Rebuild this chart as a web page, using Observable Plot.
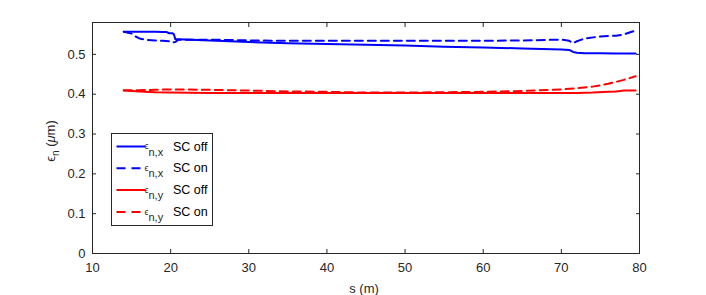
<!DOCTYPE html>
<html>
<head>
<meta charset="utf-8">
<script src="https://cdn.jsdelivr.net/npm/d3@7"></script>
<script src="https://cdn.jsdelivr.net/npm/@observablehq/plot@0.6"></script>
<style>
  html, body { margin: 0; padding: 0; background: #fff; }
  #chart { position: relative; width: 706px; height: 295px; }
  svg { font-family: "Liberation Sans", Arial, Helvetica, sans-serif; }
</style>
</head>
<body>
<div id="chart"></div>
<script>
// ---- data ----
const sXoff = [14, 15, 16, 17, 18, 19, 19.5, 19.8, 20.2, 20.4, 20.6, 21, 25, 30, 35, 40, 45, 50, 55, 60, 65, 70, 71, 71.5, 72, 73, 75, 77, 79.5];
const exOff = [0.557, 0.557, 0.557, 0.557, 0.557, 0.556, 0.556, 0.553, 0.553, 0.551, 0.538, 0.538, 0.535, 0.531, 0.528, 0.526, 0.524, 0.522, 0.519, 0.517, 0.515, 0.512, 0.511, 0.506, 0.504, 0.503, 0.503, 0.502, 0.502];

const sXon = [14, 15, 15.5, 16, 17, 18, 19, 20, 20.3, 20.6, 21, 25, 30, 35, 40, 45, 50, 55, 60, 65, 70, 71, 71.5, 72, 73, 75, 77, 78, 79.5];
const exOn = [0.557, 0.552, 0.545, 0.540, 0.536, 0.535, 0.534, 0.533, 0.530, 0.531, 0.537, 0.537, 0.535, 0.534, 0.534, 0.534, 0.534, 0.534, 0.534, 0.535, 0.537, 0.534, 0.528, 0.533, 0.540, 0.545, 0.547, 0.550, 0.560];

const sYoff = [14, 16, 18, 20, 25, 30, 35, 40, 45, 50, 55, 60, 65, 70, 72, 74, 76, 77, 78, 79.5];
const eyOff = [0.409, 0.407, 0.405, 0.404, 0.403, 0.403, 0.403, 0.403, 0.403, 0.403, 0.403, 0.403, 0.403, 0.403, 0.403, 0.404, 0.406, 0.407, 0.409, 0.409];

const sYon = [14, 16, 18, 20, 25, 30, 35, 40, 45, 50, 55, 60, 65, 70, 72, 74, 76, 78, 79.5];
const eyOn = [0.410, 0.410, 0.411, 0.412, 0.411, 0.409, 0.407, 0.406, 0.404, 0.404, 0.405, 0.406, 0.408, 0.412, 0.415, 0.419, 0.426, 0.436, 0.445];

const xTicks = [10, 20, 30, 40, 50, 60, 70, 80];
const yTicks = [0, 0.1, 0.2, 0.3, 0.4, 0.5];

const seriesNames = ["x off", "x on", "y off", "y on"];
const seriesColors = ["#0000ff", "#0000ff", "#ff0000", "#ff0000"];
const seriesDashed = [false, true, false, true];
const seriesSub = ["n,x", "n,x", "n,y", "n,y"];
const seriesLabel = ["SC off", "SC on", "SC off", "SC on"];

// ---- build table ----
const mk = (name, s, e) => s.map((v, i) => ({series: name, s: v, e: e[i]}));
const tables = [mk("x off", sXoff, exOff), mk("x on", sXon, exOn), mk("y off", sYoff, eyOff), mk("y on", sYon, eyOn)];

const axisColor = "#262626";
const marks = [];
tables.forEach((t, i) => {
  marks.push(Plot.lineY(t, {
    x: "s", y: "e",
    stroke: seriesColors[i],
    strokeWidth: 2,
    strokeDasharray: seriesDashed[i] ? "8,5" : null,
    strokeLinejoin: "round"
  }));
});

const plot = Plot.plot({
  width: 706,
  height: 295,
  marginLeft: 92,
  marginRight: 67,
  marginTop: 22,
  marginBottom: 42,
  style: {fontFamily: "'Liberation Sans', Arial, Helvetica, sans-serif", fontSize: "13px", color: axisColor, background: "#fff"},
  x: {domain: [10, 80]},
  y: {domain: [0, 0.58]},
  marks: [
    ...marks,
    Plot.frame({stroke: axisColor, strokeWidth: 1}),
    Plot.axisX({ticks: xTicks, tickSize: -4, tickPadding: 13, label: null, tickFormat: d => String(d), stroke: axisColor, fill: axisColor}),
    Plot.axisX({ticks: xTicks.slice(1, -1), anchor: "top", tickSize: -4, tickFormat: () => "", label: null, stroke: axisColor}),
    Plot.axisY({ticks: yTicks, tickSize: -4, tickPadding: 11, label: null, tickFormat: d => d === 0 ? "0" : d3.format(".1f")(d), stroke: axisColor, fill: axisColor}),
    Plot.axisY({ticks: yTicks.slice(1), anchor: "right", tickSize: -4, tickFormat: () => "", label: null, stroke: axisColor})
  ]
});

document.getElementById("chart").appendChild(plot);

const svg = d3.select(plot);

// x label
svg.append("text")
  .attr("x", 364).attr("y", 293)
  .attr("text-anchor", "middle")
  .attr("fill", axisColor)
  .style("font-size", "13px")
  .text("s (m)");

// y label
const yl = svg.append("text")
  .attr("transform", "translate(55,141) rotate(-90)")
  .attr("text-anchor", "middle")
  .attr("fill", axisColor)
  .style("font-size", "13px");
yl.append("tspan").text("ϵ");
yl.append("tspan").attr("dy", 4).style("font-size", "10px").text("n");
yl.append("tspan").attr("dy", -4).text(" (");
yl.append("tspan").style("font-style", "italic").text("μ");
yl.append("tspan").text("m)");

// legend
const lg = svg.append("g").attr("text-anchor", "start");
lg.append("rect")
  .attr("x", 111.5).attr("y", 133.5).attr("width", 101).attr("height", 92)
  .attr("fill", "#fff").attr("stroke", axisColor).attr("stroke-width", 1);
const rowY = [146.5, 168.3, 190, 212];
seriesNames.forEach((n, i) => {
  const y = rowY[i];
  lg.append("line")
    .attr("x1", 116.5).attr("x2", 145).attr("y1", y).attr("y2", y)
    .attr("stroke", seriesColors[i]).attr("stroke-width", 2)
    .attr("stroke-dasharray", seriesDashed[i] ? "9,6" : null);
  const t = lg.append("text")
    .attr("x", 144.5).attr("y", y + 2.5)
    .attr("text-anchor", "start")
    .attr("fill", axisColor)
    .style("font-size", "9px");
  t.append("tspan").text("ϵ");
  t.append("tspan").attr("dy", 6.5).style("font-size", "11px").text(seriesSub[i]);
  lg.append("text")
    .attr("x", 173).attr("y", y + 4)
    .attr("text-anchor", "start")
    .attr("fill", "#000")
    .style("font-size", "12.5px")
    .text(seriesLabel[i]);
});
</script>
</body>
</html>
